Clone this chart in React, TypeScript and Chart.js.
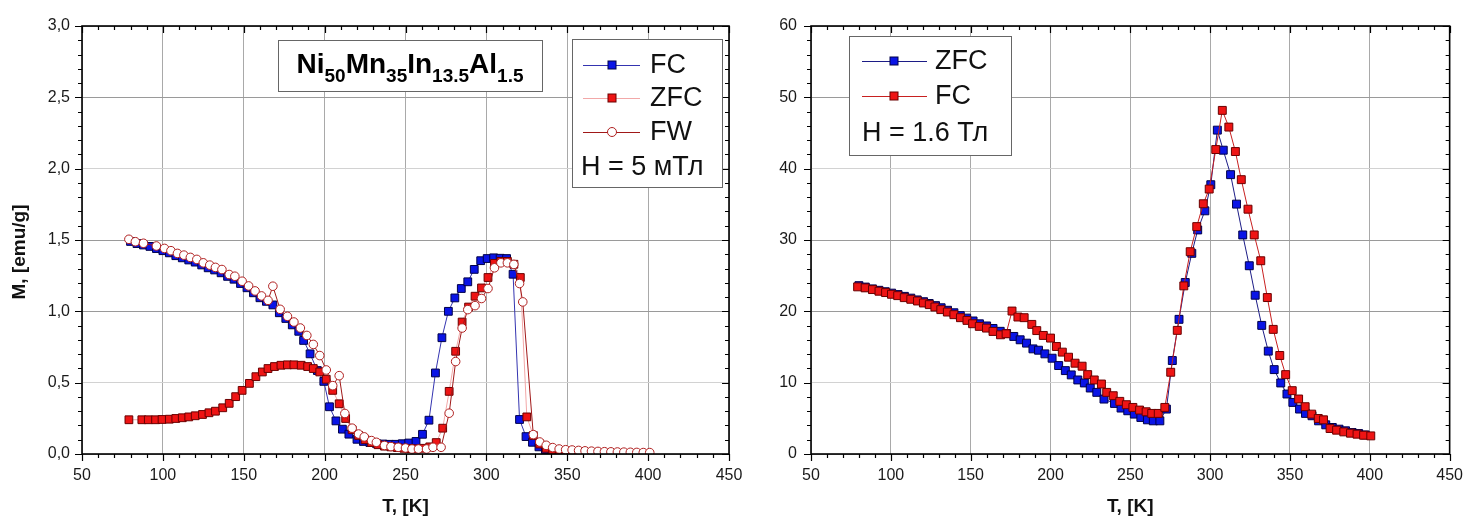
import React, { useEffect, useRef } from 'react';
import { Chart, registerables } from 'chart.js';

Chart.register(...registerables);

const FONT = "'Liberation Sans', Arial, Helvetica, sans-serif";

// ---------- Left panel: H = 5 mT ----------
const fcT_5mT = [80, 84, 88, 92, 96, 100, 104, 108, 112, 116, 120, 124, 128, 132, 136, 140, 144, 148, 152, 156, 160, 164, 168, 172, 176, 180, 184, 187, 191, 195.5, 199.5, 203, 207, 211, 215, 220, 224, 228, 232, 236, 240, 244, 248, 252, 256.5, 260.5, 264.5, 268.5, 272.5, 276.5, 280.5, 284.5, 288.5, 292.5, 296.5, 300.5, 304.5, 308.5, 312.5, 316.5, 320.5, 324.5, 328.5, 332.5, 336.5, 340.5, 344.5, 348.5];
const fcM_5mT = [1.49, 1.475, 1.465, 1.455, 1.44, 1.425, 1.41, 1.39, 1.375, 1.36, 1.345, 1.325, 1.305, 1.29, 1.27, 1.245, 1.225, 1.195, 1.165, 1.13, 1.095, 1.07, 1.045, 0.99, 0.95, 0.905, 0.86, 0.796, 0.702, 0.585, 0.509, 0.331, 0.232, 0.174, 0.139, 0.103, 0.088, 0.08, 0.074, 0.07, 0.068, 0.068, 0.072, 0.077, 0.088, 0.138, 0.237, 0.568, 0.815, 1.0, 1.094, 1.16, 1.207, 1.294, 1.355, 1.37, 1.375, 1.372, 1.37, 1.26, 0.242, 0.122, 0.082, 0.05, 0.03, 0.018, 0.01, 0.006];

const zfcT_5mT = [79, 87, 91, 95.5, 99.5, 104, 108, 112, 116, 120, 124.5, 128.5, 132.5, 137, 141, 145, 149, 153.5, 157.5, 161.5, 165, 169, 173, 177, 181, 185.5, 189.5, 193, 197, 201, 205, 209, 213, 217, 221, 225, 229, 233, 237, 241, 245, 249, 253, 257, 261, 265, 269, 273, 277, 281, 285, 289, 293, 297, 301, 305, 309, 313, 317, 321, 325, 329, 333, 337, 341, 345, 349];
const zfcM_5mT = [0.24, 0.24, 0.24, 0.24, 0.242, 0.244, 0.249, 0.254, 0.26, 0.268, 0.277, 0.289, 0.3, 0.324, 0.355, 0.402, 0.446, 0.495, 0.542, 0.575, 0.599, 0.613, 0.622, 0.625, 0.625, 0.622, 0.613, 0.599, 0.575, 0.524, 0.446, 0.352, 0.249, 0.17, 0.13, 0.1, 0.08, 0.065, 0.055, 0.05, 0.045, 0.04, 0.038, 0.036, 0.04, 0.05, 0.08, 0.181, 0.439, 0.72, 0.925, 1.03, 1.106, 1.164, 1.237, 1.336, 1.35, 1.35, 1.33, 1.237, 0.26, 0.13, 0.07, 0.04, 0.025, 0.015, 0.01];

const fwT_5mT = [79, 83, 88, 96, 101, 105, 109, 113, 117, 121, 125, 129, 132.5, 136.5, 141, 144.5, 149, 153, 157, 161, 165, 168, 172.5, 177, 181, 185, 189, 193, 197, 201, 205, 209, 212.5, 217, 221, 224.5, 229, 232, 237, 241, 245.5, 250, 254, 258, 263, 267, 272, 277, 281, 285, 288.5, 293, 297, 301, 305, 309, 313, 317, 320.5, 322.5, 329, 333, 337, 341, 345, 349, 353, 357, 361, 365, 369, 373, 377, 381, 385, 389, 393, 397, 401];
const fwM_5mT = [1.505, 1.488, 1.477, 1.458, 1.441, 1.425, 1.406, 1.394, 1.378, 1.364, 1.34, 1.324, 1.308, 1.293, 1.258, 1.246, 1.211, 1.178, 1.143, 1.108, 1.077, 1.176, 1.014, 0.965, 0.925, 0.883, 0.831, 0.768, 0.69, 0.589, 0.479, 0.549, 0.284, 0.181, 0.14, 0.12, 0.094, 0.082, 0.06, 0.052, 0.047, 0.042, 0.035, 0.035, 0.035, 0.047, 0.047, 0.286, 0.648, 0.883, 1.012, 1.04, 1.09, 1.16, 1.305, 1.34, 1.34, 1.329, 1.195, 1.066, 0.136, 0.084, 0.061, 0.045, 0.035, 0.03, 0.028, 0.025, 0.022, 0.02, 0.018, 0.016, 0.015, 0.014, 0.013, 0.012, 0.011, 0.01, 0.01];

// ---------- Right panel: H = 1.6 T ----------
const zfcT_16T = [80, 84, 88.5, 92.5, 96.5, 100.5, 104.5, 108.5, 112.5, 116.5, 120.5, 124, 128, 131.5, 135.5, 139.5, 143.5, 147.5, 151.5, 155.5, 160, 164, 168.5, 172.5, 177, 181, 185, 189, 192.5, 196.5, 201, 205.1, 209.3, 213, 217.1, 221.2, 224.9, 229, 233.5, 240.1, 244.2, 248.4, 252.5, 256.6, 260.7, 264.4, 268.5, 272.6, 276.3, 280.5, 284.4, 288.5, 292.2, 296.7, 300.4, 304.5, 308.2, 312.8, 316.5, 320.4, 324.5, 328.2, 332.3, 336.4, 340.1, 344.2, 348.1, 351.8, 356, 359.7, 363.8, 367.9, 372.4, 376.5, 380.7, 384.8, 388.9, 393, 397.1];
const zfcM_16T = [23.6, 23.4, 23.15, 22.95, 22.75, 22.55, 22.35, 22.1, 21.85, 21.6, 21.35, 21.1, 20.8, 20.5, 20.15, 19.8, 19.4, 19.05, 18.65, 18.25, 17.95, 17.6, 17.2, 16.9, 16.48, 16.01, 15.54, 14.74, 14.55, 14.04, 13.43, 12.4, 11.69, 11.09, 10.38, 9.96, 9.25, 8.64, 7.7, 7.09, 6.44, 6.06, 5.59, 5.12, 4.79, 4.65, 4.65, 6.3, 13.1, 18.88, 24.04, 28.13, 31.41, 34.09, 37.75, 45.4, 42.59, 39.16, 35.03, 30.71, 26.39, 22.26, 18.03, 14.42, 11.83, 9.96, 8.41, 7.23, 6.3, 5.69, 5.36, 4.65, 4.09, 3.72, 3.48, 3.25, 3.01, 2.87, 2.68];

const fcT_16T = [79.2, 83.9, 88.5, 92.6, 96.7, 100.4, 104.3, 108.4, 112.5, 116.7, 120.4, 124.1, 127.6, 131.3, 135.4, 139.5, 143.6, 147.7, 151.2, 155.4, 159.9, 164, 168.7, 172.2, 175.9, 179.6, 183.5, 188.3, 191.4, 195.5, 200, 203.7, 207.4, 211.3, 215.4, 219.8, 223.3, 227.4, 231.9, 235.2, 239.3, 243.4, 247.5, 251.6, 255.8, 259.9, 263.4, 267.5, 271.6, 275.3, 279.4, 283.5, 287.5, 291.6, 295.7, 299.4, 303.5, 307.6, 311.7, 315.8, 319.5, 323.7, 327.6, 331.7, 335.8, 339.5, 343.6, 347.3, 351.4, 355.4, 359.5, 363.6, 367.7, 371, 375.1, 379.2, 383.7, 387.9, 392, 396.1, 400.6];
const fcM_16T = [23.43, 23.29, 23.05, 22.82, 22.63, 22.39, 22.2, 21.92, 21.69, 21.45, 21.17, 20.94, 20.61, 20.24, 19.9, 19.53, 19.11, 18.73, 18.26, 17.89, 17.65, 17.18, 16.71, 16.85, 20.04, 19.2, 19.11, 18.17, 17.3, 16.62, 16.25, 15.07, 14.28, 13.57, 12.73, 12.31, 11.13, 10.38, 9.81, 8.64, 8.17, 7.38, 6.91, 6.53, 6.16, 5.92, 5.69, 5.69, 6.53, 11.46, 17.33, 23.57, 28.36, 31.88, 35.08, 37.14, 42.68, 48.17, 45.83, 42.4, 38.46, 34.32, 30.71, 27.09, 21.93, 17.47, 13.81, 11.13, 8.88, 7.71, 6.63, 5.59, 4.98, 4.79, 3.57, 3.34, 3.1, 2.92, 2.78, 2.63, 2.54];

// ---------- Axes ----------
const xTickValues = [50, 100, 150, 200, 250, 300, 350, 400, 450];
const xTickLabels = ['50', '100', '150', '200', '250', '300', '350', '400', '450'];
const leftYTickValues = [0, 0.5, 1.0, 1.5, 2.0, 2.5, 3.0];
const leftYTickLabels = ['0,0', '0,5', '1,0', '1,5', '2,0', '2,5', '3,0'];
const rightYTickValues = [0, 10, 20, 30, 40, 50, 60];
const rightYTickLabels = ['0', '10', '20', '30', '40', '50', '60'];

const xAxisTitle = 'T, [K]';
const yAxisTitle = 'M, [emu/g]';

const leftLegendLabels = ['FC', 'ZFC', 'FW'];
const leftLegendNote = 'H = 5 мТл';
const rightLegendLabels = ['ZFC', 'FC'];
const rightLegendNote = 'H = 1.6 Тл';

// formula parts: [text, isSubscript]
const titleParts: [string, boolean][] = [
  ['Ni', false], ['50', true], ['Mn', false], ['35', true],
  ['In', false], ['13.5', true], ['Al', false], ['1.5', true],
];

function pts(xs: number[], ys: number[]) {
  return xs.map((x, i) => ({ x, y: ys[i] }));
}

type Marker = { shape: 'rect' | 'circle'; fill: string; stroke: string; line: string };

type Deco = {
  xMinor: number; xMajor: number; yMinor: number; yMajor: number;
  yTitle?: { x: number; y: number };
  xTitleY: number;
  titleBox?: { x: number; y: number; w: number; h: number; cx: number; base: number };
  legend: {
    box: [number, number, number, number];
    rows: number[]; lineX: [number, number]; markerX: number; textX: number;
    labels: string[]; markers: Marker[]; note: string; noteX: number; noteY: number;
  };
};

function drawMarker(ctx: CanvasRenderingContext2D, m: Marker, x: number, y: number) {
  ctx.fillStyle = m.fill;
  ctx.strokeStyle = m.stroke;
  ctx.lineWidth = 1;
  if (m.shape === 'rect') {
    ctx.fillRect(x - 4, y - 4, 8, 8);
    ctx.strokeRect(x - 4, y - 4, 8, 8);
  } else {
    ctx.beginPath();
    ctx.arc(x, y, 4.5, 0, Math.PI * 2);
    ctx.fill();
    ctx.stroke();
  }
}

function decoPlugin(d: Deco) {
  return {
    id: 'deco',
    afterDatasetsDraw(chart: any) {
      const { ctx, chartArea: a, scales } = chart;
      const xs = scales.x;
      const ys = scales.y;
      ctx.save();
      ctx.strokeStyle = '#000';
      ctx.lineWidth = 1.2;
      ctx.beginPath();
      for (let v = xs.min; v <= xs.max + 1e-9; v += d.xMinor) {
        const px = Math.round(xs.getPixelForValue(v)) + 0.5;
        const r = v / d.xMajor;
        const major = Math.abs(r - Math.round(r)) < 1e-6;
        const len = major ? 7 : 4;
        ctx.moveTo(px, a.bottom);
        ctx.lineTo(px, a.bottom + len);
        ctx.moveTo(px, a.top);
        ctx.lineTo(px, a.top + len);
      }
      for (let v = ys.min; v <= ys.max + 1e-9; v += d.yMinor) {
        const py = Math.round(ys.getPixelForValue(v)) + 0.5;
        const r = v / d.yMajor;
        const major = Math.abs(r - Math.round(r)) < 1e-6;
        const len = major ? 7 : 4;
        ctx.moveTo(a.left - len, py);
        ctx.lineTo(a.left, py);
        ctx.moveTo(a.right - len, py);
        ctx.lineTo(a.right, py);
      }
      ctx.stroke();
      ctx.lineWidth = 1.6;
      ctx.strokeRect(a.left, a.top, a.right - a.left, a.bottom - a.top);
      ctx.restore();
    },
    afterDraw(chart: any) {
      const { ctx, chartArea: a } = chart;
      ctx.save();
      ctx.fillStyle = '#111';
      ctx.font = `bold 19px ${FONT}`;
      ctx.textAlign = 'center';
      ctx.textBaseline = 'middle';
      ctx.fillText(xAxisTitle, (a.left + a.right) / 2, d.xTitleY);
      if (d.yTitle) {
        ctx.save();
        ctx.translate(d.yTitle.x, d.yTitle.y);
        ctx.rotate(-Math.PI / 2);
        ctx.fillText(yAxisTitle, 0, 0);
        ctx.restore();
      }
      // formula box
      if (d.titleBox) {
        const t = d.titleBox;
        ctx.fillStyle = '#fff';
        ctx.fillRect(t.x, t.y, t.w, t.h);
        ctx.strokeStyle = '#666';
        ctx.lineWidth = 1;
        ctx.strokeRect(t.x + 0.5, t.y + 0.5, t.w, t.h);
        const mainFont = `bold 28px ${FONT}`;
        const subFont = `bold 19px ${FONT}`;
        let total = 0;
        for (const [s, sub] of titleParts) {
          ctx.font = sub ? subFont : mainFont;
          total += ctx.measureText(s).width;
        }
        let x = t.cx - total / 2;
        ctx.fillStyle = '#000';
        ctx.textAlign = 'left';
        ctx.textBaseline = 'alphabetic';
        for (const [s, sub] of titleParts) {
          ctx.font = sub ? subFont : mainFont;
          ctx.fillText(s, x, sub ? t.base + 9 : t.base);
          x += ctx.measureText(s).width;
        }
      }
      // legend
      const L = d.legend;
      const [bx, by, bw, bh] = L.box;
      ctx.fillStyle = '#fff';
      ctx.fillRect(bx, by, bw, bh);
      ctx.strokeStyle = '#666';
      ctx.lineWidth = 1;
      ctx.strokeRect(bx + 0.5, by + 0.5, bw, bh);
      ctx.font = `27px ${FONT}`;
      ctx.textAlign = 'left';
      ctx.textBaseline = 'middle';
      L.labels.forEach((lab, i) => {
        const y = L.rows[i];
        const m = L.markers[i];
        ctx.strokeStyle = m.line;
        ctx.lineWidth = 1;
        ctx.beginPath();
        ctx.moveTo(L.lineX[0], Math.round(y) + 0.5);
        ctx.lineTo(L.lineX[1], Math.round(y) + 0.5);
        ctx.stroke();
        drawMarker(ctx, m, L.markerX, y);
        ctx.fillStyle = '#111';
        ctx.fillText(lab, L.textX, y + 1);
      });
      ctx.fillStyle = '#111';
      ctx.fillText(L.note, L.noteX, L.noteY + 1);
      ctx.restore();
    },
  };
}

const blueM: Marker = { shape: 'rect', fill: '#0a14e6', stroke: '#00004a', line: '#3434b0' };
const redM: Marker = { shape: 'rect', fill: '#ee1414', stroke: '#6a0000', line: '#f2a8a8' };
const fwM: Marker = { shape: 'circle', fill: '#ffffff', stroke: '#b02020', line: '#a01818' };
const blueMR: Marker = { shape: 'rect', fill: '#0a14e6', stroke: '#00004a', line: '#1c1c86' };
const redMR: Marker = { shape: 'rect', fill: '#ee1414', stroke: '#6a0000', line: '#c82020' };

function ds(label: string, data: any[], m: Marker, order: number, radius: number) {
  return {
    label,
    data,
    showLine: true,
    fill: false,
    borderColor: m.line,
    borderWidth: 1,
    backgroundColor: m.fill,
    pointStyle: m.shape,
    pointRadius: radius,
    pointHoverRadius: radius,
    pointBackgroundColor: m.fill,
    pointBorderColor: m.stroke,
    pointBorderWidth: 1,
    order,
  };
}

function makeOptions(yVals: number[], yLabels: string[], yMax: number, yPad: number, yWidth: number, padRight: number) {
  return {
    animation: false,
    responsive: false,
    maintainAspectRatio: false,
    devicePixelRatio: 1,
    events: [],
    layout: { padding: { top: 26, right: padRight, left: 0, bottom: 0 } },
    plugins: { legend: { display: false }, tooltip: { enabled: false }, title: { display: false } },
    scales: {
      x: {
        type: 'linear',
        min: 50,
        max: 450,
        afterBuildTicks: (s: any) => { s.ticks = xTickValues.map((v) => ({ value: v })); },
        afterFit: (s: any) => { s.height = 67; },
        ticks: {
          callback: (_v: any, i: number) => xTickLabels[i],
          font: { family: FONT, size: 16 },
          color: '#1a1a1a',
          padding: 12,
          maxRotation: 0,
          autoSkip: false,
        },
        grid: { color: '#a9a9a9', lineWidth: 1, drawTicks: false },
        border: { display: false },
      },
      y: {
        type: 'linear',
        min: 0,
        max: yMax,
        afterBuildTicks: (s: any) => { s.ticks = yVals.map((v) => ({ value: v })); },
        afterFit: (s: any) => { s.width = yWidth; },
        ticks: {
          callback: (_v: any, i: number) => yLabels[i],
          font: { family: FONT, size: 16 },
          color: '#1a1a1a',
          padding: yPad,
          autoSkip: false,
        },
        grid: {
          color: (c: any) => (c.index === 1 || c.index === 4 ? '#d2d2d2' : '#9a9a9a'),
          lineWidth: 1,
          drawTicks: false,
        },
        border: { display: false },
      },
    },
  };
}

export default function App() {
  const leftRef = useRef<HTMLCanvasElement | null>(null);
  const rightRef = useRef<HTMLCanvasElement | null>(null);

  useEffect(() => {
    const left = new Chart(leftRef.current as HTMLCanvasElement, {
      type: 'scatter',
      data: {
        datasets: [
          ds('FC', pts(fcT_5mT, fcM_5mT), blueM, 2, 5.5),
          ds('ZFC', pts(zfcT_5mT, zfcM_5mT), redM, 1, 5.5),
          ds('FW', pts(fwT_5mT, fwM_5mT), fwM, 0, 4.3),
        ],
      },
      options: makeOptions(leftYTickValues, leftYTickLabels, 3, 12, 82, 31) as any,
      plugins: [
        decoPlugin({
          xMinor: 10, xMajor: 50, yMinor: 0.1, yMajor: 0.5,
          yTitle: { x: 20, y: 252 },
          xTitleY: 507,
          titleBox: { x: 278, y: 40, w: 264, h: 51, cx: 410, base: 73 },
          legend: {
            box: [572, 39, 150, 148],
            rows: [65, 98, 132],
            lineX: [583, 640],
            markerX: 612,
            textX: 650,
            labels: leftLegendLabels,
            markers: [blueM, redM, fwM],
            note: leftLegendNote,
            noteX: 581,
            noteY: 167,
          },
        }) as any,
      ],
    });

    const right = new Chart(rightRef.current as HTMLCanvasElement, {
      type: 'scatter',
      data: {
        datasets: [
          ds('ZFC', pts(zfcT_16T, zfcM_16T), blueMR, 1, 5.6),
          ds('FC', pts(fcT_16T, fcM_16T), redMR, 0, 5.6),
        ],
      },
      options: makeOptions(rightYTickValues, rightYTickLabels, 60, 14, 71, 16) as any,
      plugins: [
        decoPlugin({
          xMinor: 10, xMajor: 50, yMinor: 2, yMajor: 10,
          xTitleY: 507,
          legend: {
            box: [109, 36, 162, 119],
            rows: [61, 96],
            lineX: [122, 187],
            markerX: 154,
            textX: 195,
            labels: rightLegendLabels,
            markers: [blueMR, redMR],
            note: rightLegendNote,
            noteX: 122,
            noteY: 133,
          },
        }) as any,
      ],
    });

    return () => {
      left.destroy();
      right.destroy();
    };
  }, []);

  return (
    <div style={{ position: 'absolute', left: 0, top: 0, width: 1475, height: 521, background: '#fff', overflow: 'hidden' }}>
      <canvas ref={leftRef} width={760} height={521} style={{ position: 'absolute', left: 0, top: 0, width: 760, height: 521 }} />
      <canvas ref={rightRef} width={735} height={521} style={{ position: 'absolute', left: 740, top: 0, width: 735, height: 521 }} />
    </div>
  );
}
